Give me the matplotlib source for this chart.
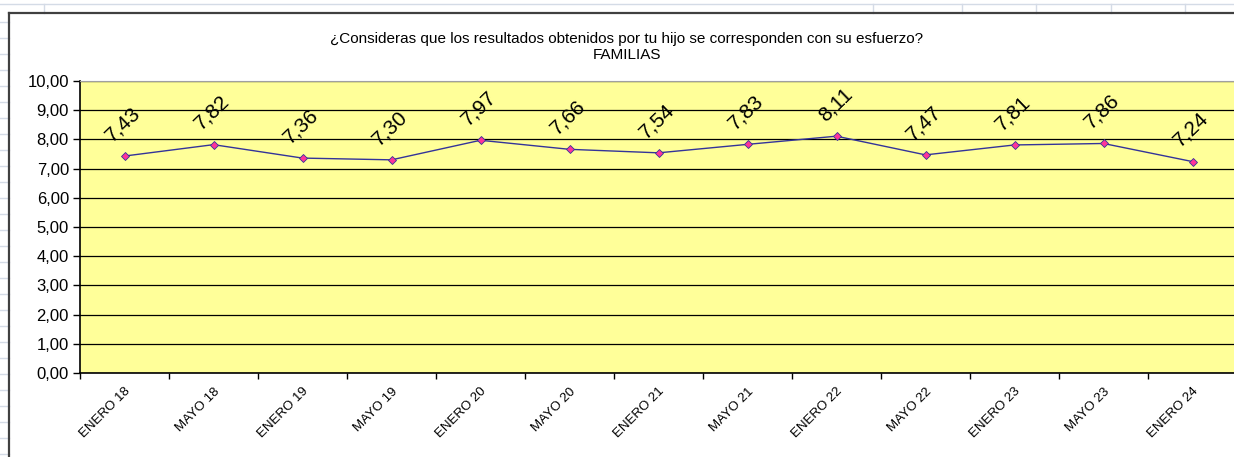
import matplotlib.pyplot as plt
from matplotlib.lines import Line2D
from matplotlib.ticker import FixedLocator, FuncFormatter

periodos = ['ENERO 18', 'MAYO 18', 'ENERO 19', 'MAYO 19', 'ENERO 20', 'MAYO 20',
            'ENERO 21', 'MAYO 21', 'ENERO 22', 'MAYO 22', 'ENERO 23', 'MAYO 23',
            'ENERO 24']
valores = [7.43, 7.82, 7.36, 7.30, 7.97, 7.66, 7.54, 7.83, 8.11, 7.47, 7.81, 7.86, 7.24]

titulo = '¿Consideras que los resultados obtenidos por tu hijo se corresponden con su esfuerzo?\nFAMILIAS'

W, H = 1234, 457
plt.rcParams['font.family'] = ['Liberation Sans', 'DejaVu Sans']
fig = plt.figure(figsize=(W / 100, H / 100), dpi=100)

def fx(px):
    return px / W

def fy(py):
    return 1 - py / H

# spreadsheet grid behind the chart
grid_col = '#d4dbe6'
fig.add_artist(Line2D([0, 1], [fy(4), fy(4)], color=grid_col, lw=1))
for x in [44, 873, 962, 1036, 1111, 1185]:
    fig.add_artist(Line2D([fx(x), fx(x)], [fy(4), fy(13)], color=grid_col, lw=1))
for y in range(22, H, 16):
    fig.add_artist(Line2D([0, fx(9)], [fy(y), fy(y)], color=grid_col, lw=1))

# chart area border
fig.add_artist(Line2D([fx(9), fx(9)], [fy(13), 0], color='#404040', lw=1.6))
fig.add_artist(Line2D([fx(9), 1], [fy(13), fy(13)], color='#404040', lw=1.6))

left, right, top, bottom = 80, 1237, 81, 373
ax = fig.add_axes([fx(left), fy(bottom), fx(right - left), fy(top) - fy(bottom)])
ax.set_facecolor('#ffff99')

x = list(range(len(periodos)))
ax.plot(x, valores, color='#333399', lw=1, marker='D', markersize=4,
        markerfacecolor='#ff3399', markeredgecolor='#333399', markeredgewidth=0.6,
        zorder=3)

for xi, v in zip(x, valores):
    ax.annotate(f'{v:.2f}'.replace('.', ','), (xi, v), xytext=(-1, 23),
                textcoords='offset points', rotation=44, ha='center', va='center',
                fontsize=15, color='black', rotation_mode='anchor')

ax.set_xlim(-0.5, len(periodos) - 0.5)
ax.set_ylim(0, 10)
ax.yaxis.set_major_locator(FixedLocator([i for i in range(11)]))
ax.yaxis.set_major_formatter(FuncFormatter(lambda v, p: f'{v:.2f}'.replace('.', ',')))
ax.grid(axis='y', color='black', lw=0.9)
ax.set_axisbelow(True)

ax.set_xticks(x)
ax.set_xticklabels(periodos, rotation=45, ha='right', rotation_mode='anchor',
                   fontsize=9.5)
ax.xaxis.set_minor_locator(FixedLocator([i - 0.5 for i in range(len(periodos) + 1)]))
ax.tick_params(axis='x', which='major', length=0, pad=9)
ax.tick_params(axis='x', which='minor', length=4, width=1, direction='out')
ax.tick_params(axis='y', length=5, width=1, direction='out', labelsize=12, pad=3)

for s in ['left', 'bottom']:
    ax.spines[s].set_color('black')
    ax.spines[s].set_linewidth(1.2)
ax.spines['top'].set_color('#a0a0a0')
ax.spines['right'].set_visible(False)

fig.text(fx(627), fy(47), titulo, ha='center', va='center', fontsize=11,
         linespacing=1.2, color='black')

fig.savefig('out.png', dpi=100)
